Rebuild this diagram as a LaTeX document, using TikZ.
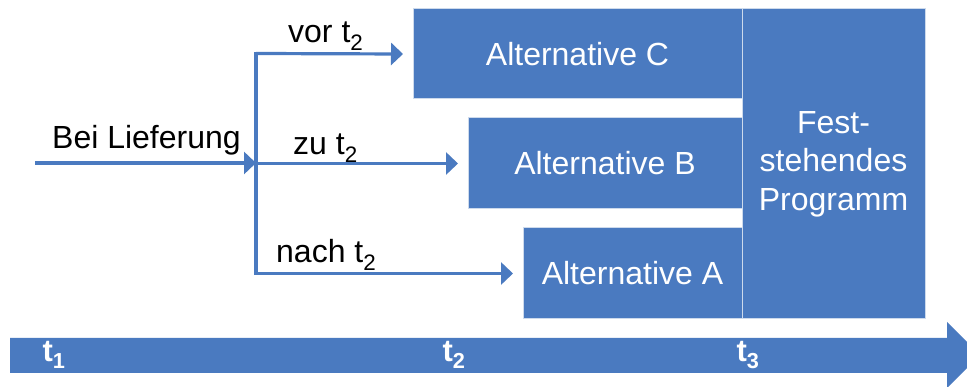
\documentclass[tikz,border=0pt]{standalone}
\usepackage{fontspec}
\setmainfont{Liberation Sans}
\usetikzlibrary{arrows.meta}
\definecolor{bblue}{RGB}{74,122,192}
\definecolor{bedge}{RGB}{205,218,236}
\tikzset{
  box/.style={fill=bblue, draw=bedge, line width=1pt, inner sep=0pt, outer sep=0pt, anchor=north west, text=white, font=\fontsize{32}{38.5}\selectfont},
  lbl/.style={anchor=base west, inner sep=0pt, font=\fontsize{32}{38.5}\selectfont},
  tl/.style={inner sep=0pt, text=white, font=\fontsize{31}{33}\selectfont\bfseries},
  conn/.style={draw=bblue, line width=3.2pt},
  arr/.style={conn, -{Triangle[length=12pt, width=22pt]}},
}
\begin{document}
\begin{tikzpicture}[x=1pt, y=-1pt]
\useasboundingbox (0,0) rectangle (967,387);
\clip (0,0) rectangle (967,387);
\fill[white] (0,0) rectangle (967,387);
% boxes
\node[box, minimum width=329pt, minimum height=90pt] (C) at (413,9) {Alternative C};
\node[box, minimum width=274pt, minimum height=91pt] (B) at (468,118) {Alternative B};
\node[box, minimum width=219pt, minimum height=91pt] (A) at (523,228) {Alternative A};
\node[box, minimum width=183pt, minimum height=310pt, align=center] (F) at (742,9) {Fest-\\stehendes\\Programm};
% connectors
\coordinate (start) at (35,163);
\coordinate (split) at (256,163);
\coordinate (top) at (256,53.5);
\coordinate (bot) at (256,273.5);
\draw[arr] (start) -- (split);
\draw[conn, line cap=rect] (top) -- (bot);
\draw[arr] (top) -- ([xshift=-10pt]C.west);
\draw[arr] (split |- B.west) -- ([xshift=-10pt]B.west);
\draw[arr] (bot) -- ([xshift=-10pt]A.west);
% labels
\node[lbl] (l0) at (52,149) {Bei Lieferung};
\node[lbl] (l1) at (288,43) {vor t\textsubscript{2}};
\node[lbl] (l2) at (293,155) {zu t\textsubscript{2}};
\node[lbl] (l3) at (276,263) {nach t\textsubscript{2}};
% timeline
\fill[bblue] (10,338) -- (947,338) -- (947,322) -- (980,355) -- (947,388) -- (947,373) -- (10,373) -- cycle;
\node[tl] (t1) at (54,355) {t\textsubscript{1}};
\node[tl] (t2) at (454,355) {t\textsubscript{2}};
\node[tl] (t3) at (748,355) {t\textsubscript{3}};
\end{tikzpicture}
\end{document}
